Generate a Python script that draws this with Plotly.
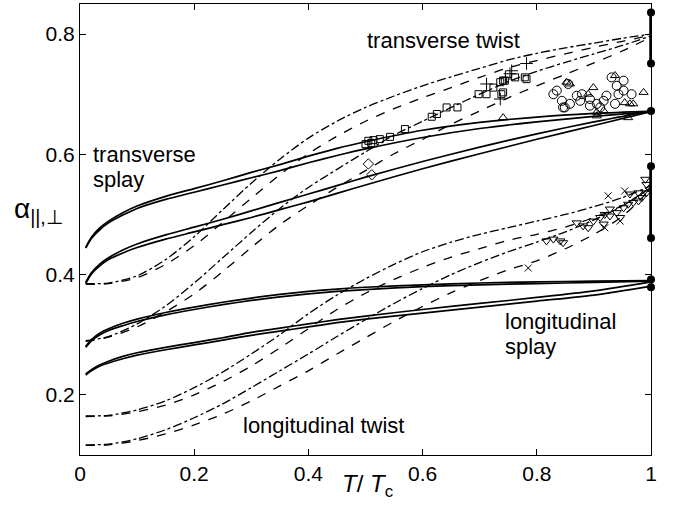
import plotly.graph_objects as go

# ---------------- data ----------------
# solid curves (splay), x grid
xs = [0.01, 0.02, 0.035, 0.05, 0.075, 0.1, 0.15, 0.2, 0.25, 0.3, 0.35, 0.4, 0.45, 0.5, 0.6, 0.7, 0.8, 0.9, 1.0]
trans_splay_a1 = [0.445, 0.462, 0.478, 0.489, 0.503, 0.514, 0.530, 0.543, 0.556, 0.570, 0.583, 0.597, 0.610, 0.621, 0.640, 0.653, 0.662, 0.668, 0.672]
trans_splay_a2 = [0.444, 0.460, 0.475, 0.486, 0.499, 0.510, 0.525, 0.537, 0.549, 0.561, 0.573, 0.586, 0.598, 0.609, 0.628, 0.643, 0.654, 0.663, 0.671]
trans_splay_b1 = [0.387, 0.403, 0.418, 0.428, 0.441, 0.451, 0.466, 0.479, 0.492, 0.506, 0.520, 0.534, 0.548, 0.562, 0.588, 0.612, 0.634, 0.654, 0.672]
trans_splay_b2 = [0.385, 0.401, 0.415, 0.425, 0.436, 0.445, 0.459, 0.471, 0.483, 0.495, 0.508, 0.521, 0.535, 0.549, 0.576, 0.601, 0.625, 0.648, 0.671]
long_splay_c1 = [0.281, 0.292, 0.303, 0.310, 0.319, 0.326, 0.337, 0.346, 0.354, 0.361, 0.367, 0.372, 0.376, 0.379, 0.383, 0.386, 0.388, 0.389, 0.390]
long_splay_c2 = [0.279, 0.290, 0.300, 0.307, 0.315, 0.322, 0.333, 0.342, 0.350, 0.357, 0.363, 0.368, 0.372, 0.375, 0.380, 0.383, 0.385, 0.387, 0.389]
long_splay_d1 = [0.235, 0.242, 0.250, 0.256, 0.264, 0.270, 0.279, 0.287, 0.295, 0.304, 0.311, 0.318, 0.325, 0.331, 0.342, 0.352, 0.362, 0.373, 0.388]
long_splay_d2 = [0.233, 0.240, 0.248, 0.253, 0.260, 0.266, 0.275, 0.283, 0.291, 0.299, 0.306, 0.313, 0.320, 0.326, 0.336, 0.346, 0.356, 0.366, 0.381]

# dash-dot / dashed curves (twist), x grid
xt = [0.01, 0.05, 0.1, 0.15, 0.2, 0.25, 0.3, 0.35, 0.4, 0.45, 0.5, 0.55, 0.6, 0.65, 0.7, 0.75, 0.8, 0.85, 0.9, 0.95, 1.0]
trans_twist_e1 = [0.385, 0.386, 0.398, 0.425, 0.463, 0.508, 0.552, 0.592, 0.627, 0.655, 0.678, 0.697, 0.714, 0.729, 0.743, 0.757, 0.768, 0.777, 0.785, 0.793, 0.800]
trans_twist_e2 = [0.384, 0.385, 0.395, 0.417, 0.448, 0.487, 0.527, 0.566, 0.601, 0.630, 0.655, 0.676, 0.694, 0.711, 0.728, 0.744, 0.756, 0.767, 0.778, 0.788, 0.798]
trans_twist_f1 = [0.290, 0.297, 0.318, 0.348, 0.386, 0.428, 0.470, 0.510, 0.545, 0.575, 0.604, 0.632, 0.655, 0.678, 0.700, 0.721, 0.738, 0.753, 0.767, 0.781, 0.797]
trans_twist_f2 = [0.289, 0.296, 0.313, 0.338, 0.368, 0.405, 0.445, 0.483, 0.515, 0.545, 0.573, 0.601, 0.625, 0.650, 0.672, 0.694, 0.714, 0.733, 0.752, 0.772, 0.795]
long_twist_g1 = [0.165, 0.166, 0.175, 0.190, 0.212, 0.238, 0.268, 0.300, 0.335, 0.366, 0.393, 0.417, 0.438, 0.454, 0.467, 0.478, 0.489, 0.500, 0.513, 0.528, 0.548]
long_twist_g2 = [0.164, 0.165, 0.172, 0.183, 0.200, 0.222, 0.248, 0.278, 0.310, 0.342, 0.369, 0.392, 0.412, 0.429, 0.443, 0.457, 0.467, 0.479, 0.495, 0.515, 0.545]
long_twist_h1 = [0.117, 0.118, 0.127, 0.142, 0.162, 0.185, 0.212, 0.240, 0.268, 0.297, 0.325, 0.352, 0.377, 0.400, 0.420, 0.438, 0.454, 0.471, 0.491, 0.514, 0.545]
long_twist_h2 = [0.116, 0.117, 0.124, 0.135, 0.150, 0.168, 0.190, 0.215, 0.240, 0.268, 0.295, 0.322, 0.347, 0.370, 0.390, 0.408, 0.423, 0.443, 0.467, 0.497, 0.543]

# experimental points
sq_x = [0.500, 0.505, 0.510, 0.514, 0.525, 0.543, 0.569, 0.616, 0.625, 0.642, 0.661, 0.698, 0.712, 0.724, 0.736, 0.741, 0.738, 0.744, 0.762, 0.779, 0.741, 0.782]
sq_y = [0.617, 0.6225, 0.619, 0.6236, 0.6253, 0.629, 0.642, 0.6625, 0.667, 0.678, 0.678, 0.700, 0.700, 0.711, 0.720, 0.7225, 0.700, 0.7225, 0.728, 0.728, 0.703, 0.725]
plus_x = [0.753, 0.756, 0.736, 0.782, 0.712, 0.745]
plus_y = [0.734, 0.739, 0.692, 0.751, 0.717, 0.728]
circ_x = [0.829, 0.844, 0.846, 0.858, 0.870, 0.879, 0.893, 0.905, 0.917, 0.922, 0.931, 0.940, 0.943, 0.952, 0.966, 0.937, 0.855, 0.911, 0.893, 0.876, 0.835, 0.849, 0.952]
circ_y = [0.700, 0.689, 0.678, 0.684, 0.6975, 0.700, 0.692, 0.684, 0.689, 0.6975, 0.728, 0.714, 0.700, 0.706, 0.700, 0.684, 0.717, 0.678, 0.681, 0.689, 0.706, 0.678, 0.7225]
tri_x = [0.852, 0.858, 0.899, 0.890, 0.905, 0.917, 0.954, 0.969, 0.987, 0.960, 0.937, 0.741, 0.963, 0.905]
tri_y = [0.720, 0.717, 0.711, 0.700, 0.670, 0.6725, 0.686, 0.684, 0.703, 0.661, 0.731, 0.661, 0.684, 0.664]
dia_x = [0.505, 0.511]
dia_y = [0.584, 0.566]
tdn_x = [0.817, 0.829, 0.841, 0.846, 0.870, 0.881, 0.890, 0.899, 0.911, 0.919, 0.928, 0.940, 0.952, 0.960, 0.969, 0.978, 0.984, 0.992, 0.992, 0.990, 0.928, 0.917, 0.946, 0.963, 0.978]
tdn_y = [0.456, 0.459, 0.456, 0.453, 0.486, 0.481, 0.478, 0.489, 0.495, 0.500, 0.4975, 0.503, 0.511, 0.517, 0.520, 0.5225, 0.528, 0.536, 0.550, 0.5585, 0.509, 0.484, 0.495, 0.534, 0.536]
xm_x = [0.785, 0.925, 0.946, 0.919, 0.995, 0.954]
xm_y = [0.411, 0.531, 0.489, 0.478, 0.539, 0.539]

# limiting values at T = Tc
bar_x = [1.0, 1.0]
bar_upper_y = [0.836, 0.751]
bar_lower_y = [0.580, 0.461]
dot_x = [1.0, 1.0, 1.0, 1.0, 1.0, 1.0, 1.0]
dot_y = [0.836, 0.751, 0.672, 0.580, 0.461, 0.392, 0.379]

# ---------------- figure ----------------
fig = go.Figure()
K = "black"

def curve(x, y, dash, width=1.4):
    fig.add_trace(go.Scatter(x=x, y=y, mode="lines",
                             line=dict(color=K, width=width, dash=dash, shape="spline", smoothing=0.8),
                             hoverinfo="skip", showlegend=False))

for y in [trans_splay_a1, trans_splay_a2, trans_splay_b1, trans_splay_b2,
          long_splay_c1, long_splay_c2, long_splay_d1, long_splay_d2]:
    curve(xs, y, "solid", 1.7)

for y1, y2 in [(trans_twist_e1, trans_twist_e2), (trans_twist_f1, trans_twist_f2),
               (long_twist_g1, long_twist_g2), (long_twist_h1, long_twist_h2)]:
    curve(xt, y1, "dashdot", 1.3)
    curve(xt, y2, "dash", 1.3)

def pts(x, y, sym, size=8):
    fig.add_trace(go.Scatter(x=x, y=y, mode="markers",
                             marker=dict(symbol=sym, size=size, color=K,
                                         line=dict(color=K, width=1)),
                             cliponaxis=False, hoverinfo="skip", showlegend=False))

pts(sq_x, sq_y, "square-open", 7)
pts(plus_x, plus_y, "cross-thin-open", 9)
pts(circ_x, circ_y, "circle-open", 9)
pts(tri_x, tri_y, "triangle-up-open", 8)
pts(dia_x, dia_y, "diamond-open", 8)
pts(tdn_x, tdn_y, "triangle-down-open", 8)
pts(xm_x, xm_y, "x-thin-open", 7)

for by in [bar_upper_y, bar_lower_y]:
    fig.add_trace(go.Scatter(x=bar_x, y=by, mode="lines", line=dict(color=K, width=3.5),
                             cliponaxis=False, hoverinfo="skip", showlegend=False))
fig.add_trace(go.Scatter(x=dot_x, y=dot_y, mode="markers",
                         marker=dict(symbol="circle", size=8, color=K),
                         cliponaxis=False, hoverinfo="skip", showlegend=False))

FONT = "Liberation Sans, Arial, Helvetica, sans-serif"
axis_common = dict(showline=True, linecolor=K, linewidth=1, mirror="ticks",
                   ticks="inside", ticklen=6, tickwidth=1, tickcolor=K,
                   showgrid=False, zeroline=False,
                   tickfont=dict(family=FONT, size=21, color=K))

fig.update_xaxes(range=[0, 1], tickvals=[0, 0.2, 0.4, 0.6, 0.8, 1],
                 ticktext=["0", "0.2", "0.4", "0.6", "0.8", "1"], **axis_common)
fig.update_yaxes(range=[0.1, 0.85], tickvals=[0.2, 0.4, 0.6, 0.8],
                 ticktext=["0.2", "0.4", "0.6", "0.8"], **axis_common)

def label(text, x, y, xanchor="left", size=22):
    fig.add_annotation(text=text, x=x, y=y, xref="paper", yref="paper",
                       xanchor=xanchor, yanchor="middle", showarrow=False,
                       font=dict(family=FONT, size=size, color=K))

label("transverse twist", 0.6366, 0.920, "center")
label("transverse", 0.0193, 0.6674)
label("splay", 0.0193, 0.6098)
label("longitudinal", 0.741, 0.2971)
label("splay", 0.741, 0.2395)
label("longitudinal twist", 0.282, 0.0665)
label("α<sub>||,⊥</sub>", -0.072, 0.543, "center", 28)
label("<i>T</i>/ <i>T</i><sub>c</sub>", 0.503, -0.068, "center", 24)

fig.update_layout(width=673, height=514,
                  margin=dict(l=80, r=22, t=4, b=59),
                  paper_bgcolor="white", plot_bgcolor="white",
                  font=dict(family=FONT, color=K))

fig.write_html("out.html")
